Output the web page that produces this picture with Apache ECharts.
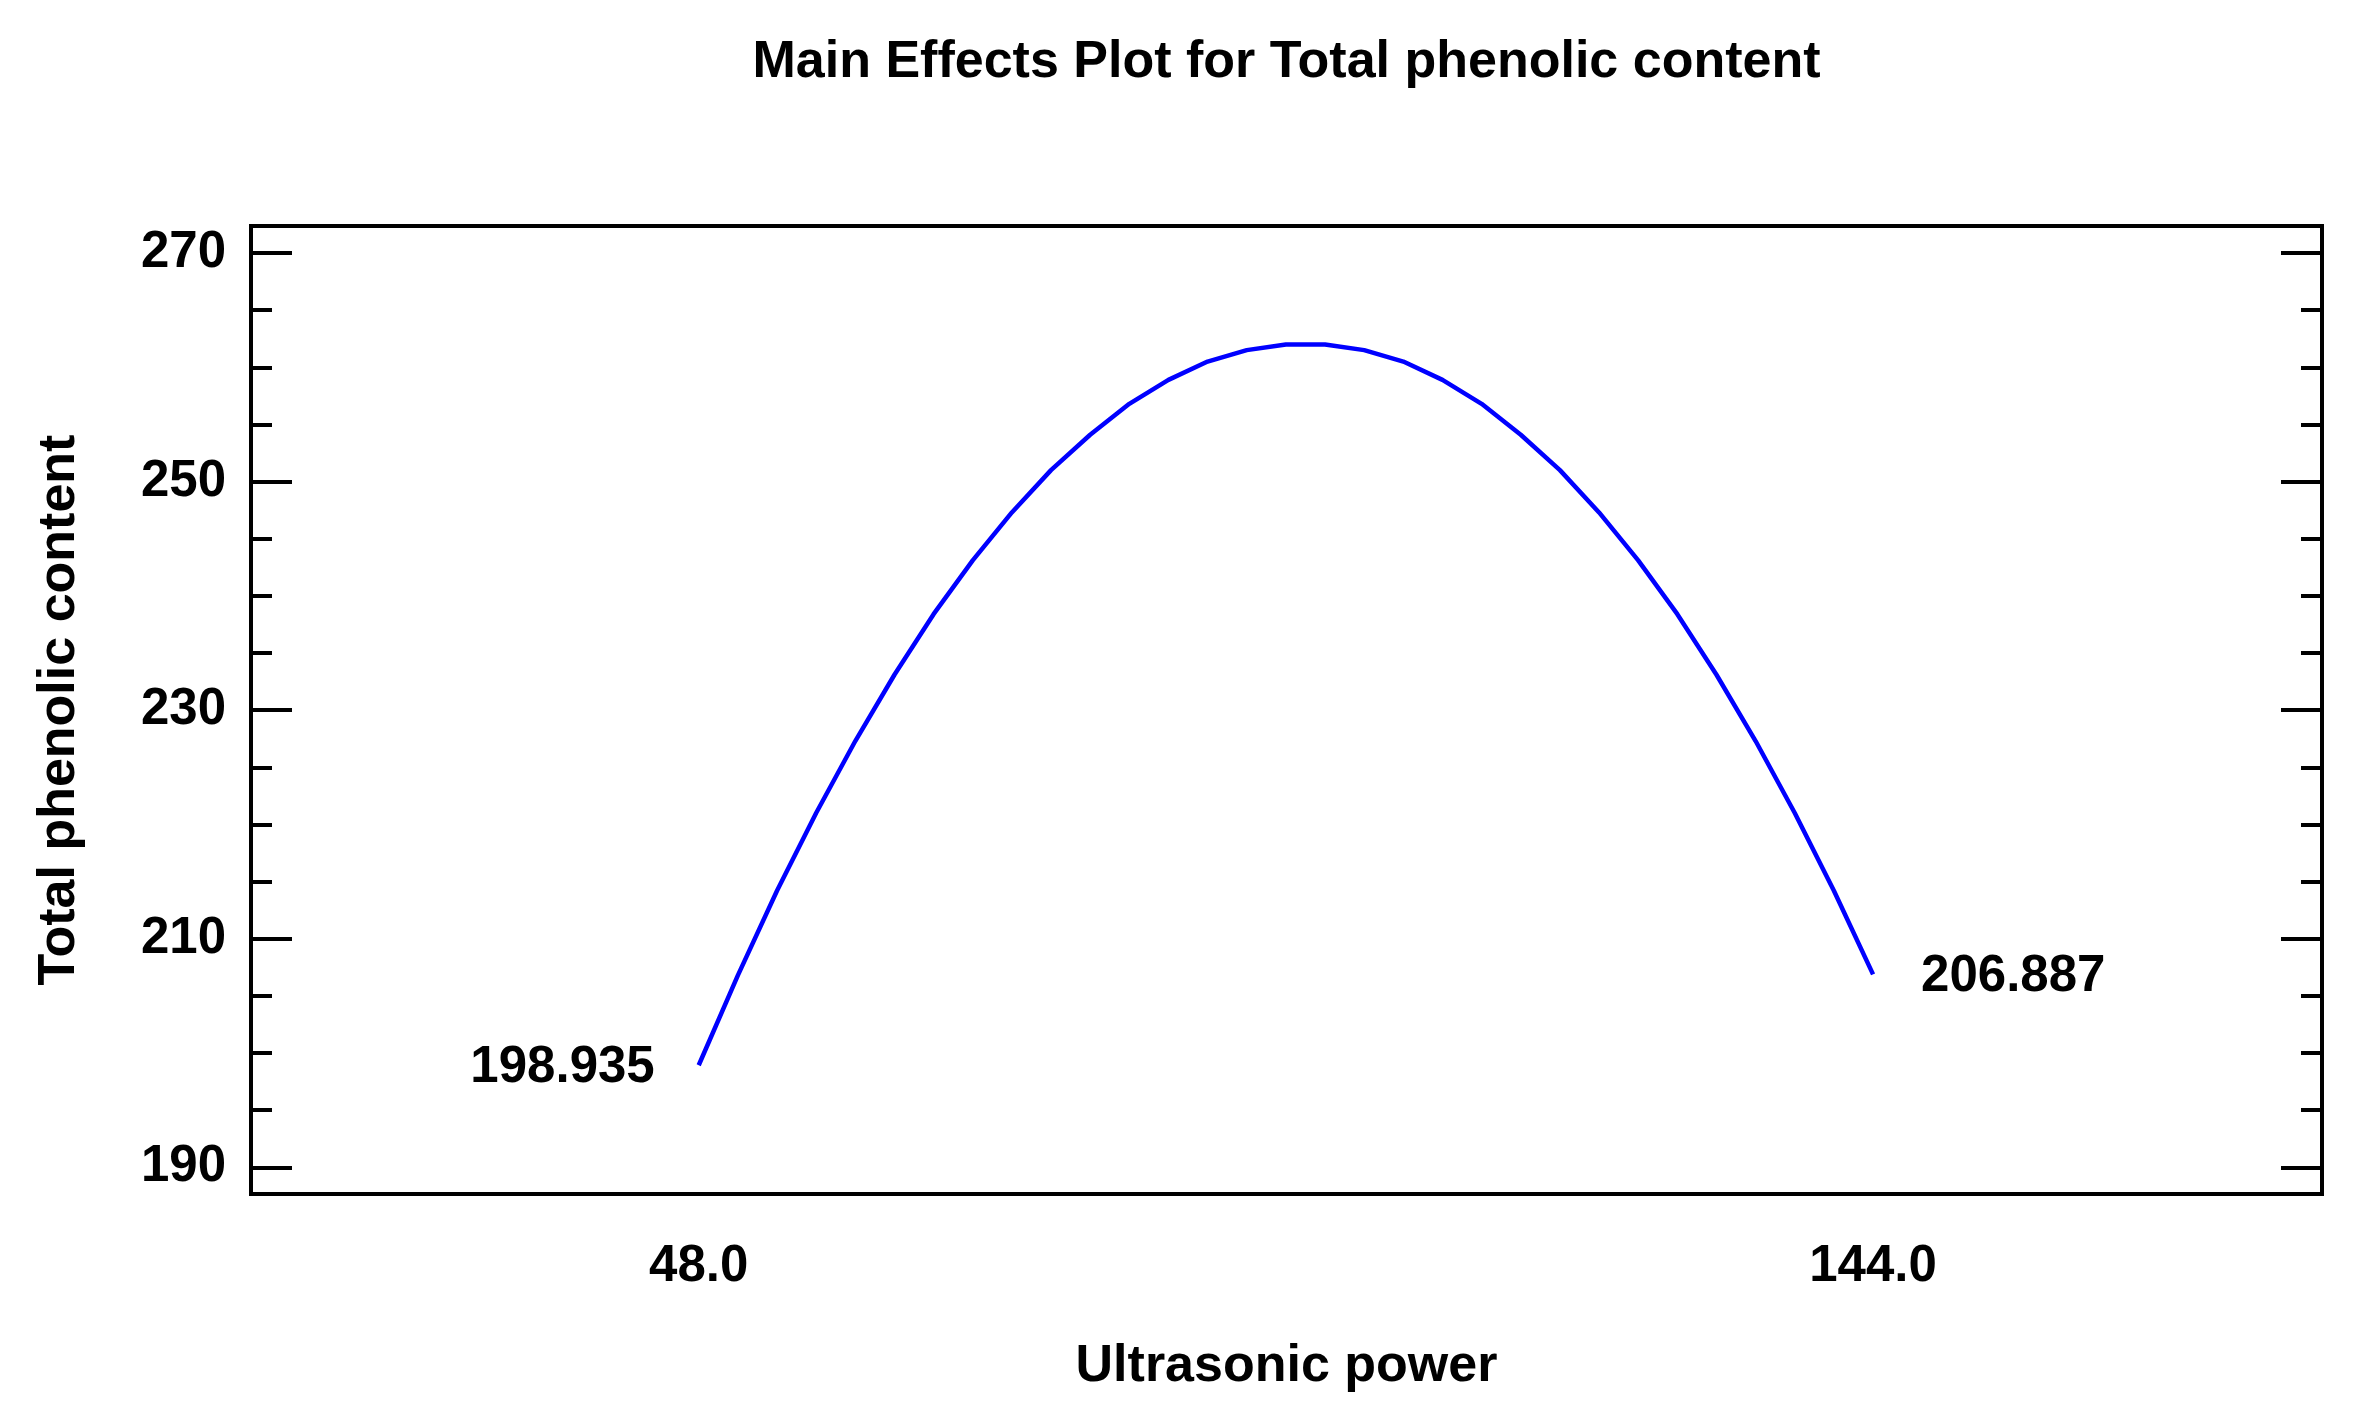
<!DOCTYPE html>
<html>
<head>
<meta charset="utf-8">
<script src="https://cdn.jsdelivr.net/npm/echarts@6/dist/echarts.min.js"></script>
<style>
html,body{margin:0;padding:0;background:#fff;}
#chart{width:2357px;height:1422px;}
</style>
</head>
<body>
<div id="chart"></div>
<script>
// Ultrasonic power (x) and predicted Total phenolic content (y)
const powerValues = [48, 51.2, 54.4, 57.6, 60.8, 64, 67.2, 70.4, 73.6, 76.8, 80,
  83.2, 86.4, 89.6, 92.8, 96, 99.2, 102.4, 105.6, 108.8, 112,
  115.2, 118.4, 121.6, 124.8, 128, 131.2, 134.4, 137.6, 140.8, 144];
const phenolicValues = [198.935, 206.8, 214.2, 221.0, 227.3, 233.1, 238.4, 243.1, 247.3, 251.0, 254.1,
  256.8, 258.9, 260.5, 261.5, 262.0, 262.0, 261.5, 260.5, 258.9, 256.8,
  254.1, 251.0, 247.3, 243.1, 238.4, 233.1, 227.3, 221.0, 214.2, 206.887];
const xTickLabels = [48, 144];
const yMajorTicks = [190, 210, 230, 250, 270];
const yMinorTicks = [195, 200, 205, 215, 220, 225, 235, 240, 245, 255, 260, 265];
const chartTitle = 'Main Effects Plot for Total phenolic content';

const FONT = "'Liberation Sans', Arial, sans-serif";
const xMin = 11.4, xMax = 180.7;
const yMin = 187.67, yMax = 272.36;

const GRID = { left: 251, right: 35, top: 226, bottom: 228 };
const W = 2357;

const endLabels = [
  { value: [powerValues[0], phenolicValues[0]], label: { position: 'left', distance: 44 } },
  { value: [powerValues[powerValues.length - 1], phenolicValues[phenolicValues.length - 1]],
    label: { position: 'right', distance: 48 } }
];

function yAxisDef(position, ticks, len, showLabels) {
  return {
    type: 'value', position: position, min: yMin, max: yMax,
    axisLine: { show: false },
    splitLine: { show: false },
    axisTick: { show: true, inside: true, length: len, customValues: ticks,
      lineStyle: { color: '#000', width: 4 } },
    axisLabel: { show: showLabels, customValues: yMajorTicks, margin: 25,
      color: '#000', fontFamily: FONT, fontWeight: 'bold', fontSize: 51 },
    name: (position === 'left' && showLabels) ? 'Total phenolic content' : '',
    nameLocation: 'middle', nameGap: 165,
    nameTextStyle: { color: '#000', fontFamily: FONT, fontWeight: 'bold', fontSize: 52 }
  };
}

const chart = echarts.init(document.getElementById('chart'), null, { renderer: 'canvas' });
chart.setOption({
  animation: false,
  backgroundColor: '#fff',
  graphic: [{
    type: 'text',
    x: GRID.left + (W - GRID.left - GRID.right) / 2,
    y: 63,
    style: {
      text: chartTitle, textAlign: 'center', textVerticalAlign: 'middle',
      fill: '#000', font: "bold 52px 'Liberation Sans', Arial, sans-serif"
    }
  }],
  grid: {
    left: GRID.left, right: GRID.right, top: GRID.top, bottom: GRID.bottom,
    show: true, borderColor: '#000', borderWidth: 4, backgroundColor: 'transparent'
  },
  xAxis: {
    type: 'value', min: xMin, max: xMax,
    axisLine: { show: false },
    axisTick: { show: false },
    splitLine: { show: false },
    axisLabel: { customValues: xTickLabels, margin: 47, formatter: v => Number(v).toFixed(1),
      color: '#000', fontFamily: FONT, fontWeight: 'bold', fontSize: 51 },
    name: 'Ultrasonic power', nameLocation: 'middle', nameGap: 147,
    nameTextStyle: { color: '#000', fontFamily: FONT, fontWeight: 'bold', fontSize: 52 }
  },
  yAxis: [
    yAxisDef('left', yMajorTicks, 41, true),
    yAxisDef('left', yMinorTicks, 21, false),
    yAxisDef('right', yMajorTicks, 41, false),
    yAxisDef('right', yMinorTicks, 21, false)
  ],
  series: [{
    type: 'line',
    yAxisIndex: 0,
    data: powerValues.map((x, i) => [x, phenolicValues[i]]),
    showSymbol: false,
    symbol: 'none',
    smooth: false,
    silent: true,
    lineStyle: { color: '#0000ff', width: 4.5 }
  }, {
    type: 'scatter',
    yAxisIndex: 0,
    data: endLabels,
    symbolSize: 0,
    silent: true,
    itemStyle: { color: '#000', opacity: 1 },
    label: {
      show: true,
      offset: [0, 3],
      formatter: p => p.value[1].toFixed(3),
      color: '#000', opacity: 1, fontFamily: FONT, fontWeight: 'bold', fontSize: 51
    }
  }]
});
</script>
</body>
</html>
